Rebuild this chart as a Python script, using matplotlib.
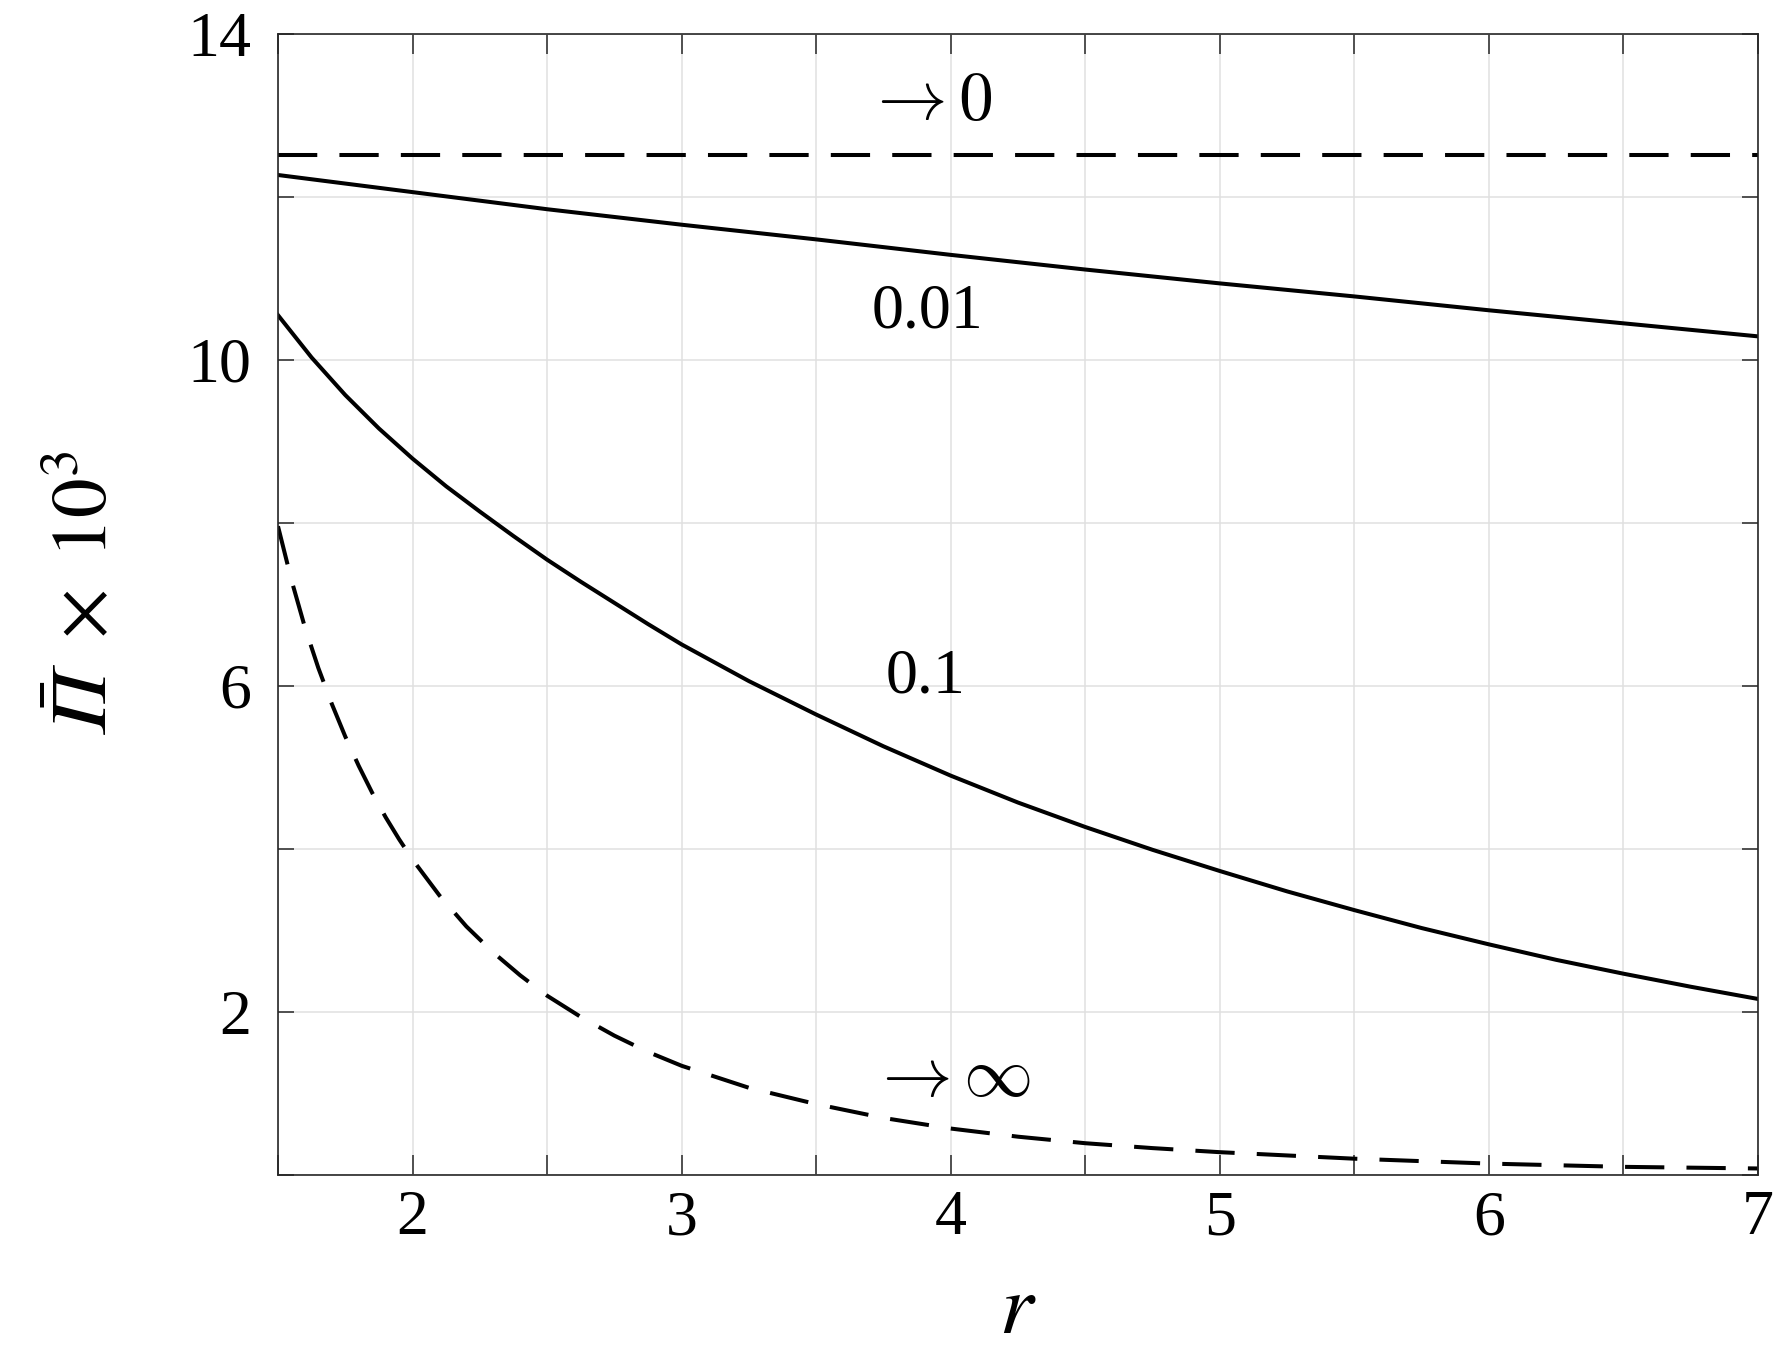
import matplotlib
matplotlib.use("Agg")
import matplotlib.pyplot as plt

# ---- data ----
r_zero = [1.5, 7.0]
pi_zero = [12.52, 12.52]

r_001 = [1.5, 2.0, 2.5, 3.0, 3.5, 4.0, 4.5, 5.0, 5.5, 6.0, 6.5, 7.0]
pi_001 = [12.27, 12.06, 11.85, 11.66, 11.48, 11.29, 11.11, 10.94, 10.78, 10.61, 10.45, 10.29]

r_01 = [1.5, 1.625, 1.75, 1.875, 2.0, 2.125, 2.25, 2.375, 2.5, 2.625, 2.75, 2.875,
        3.0, 3.25, 3.5, 3.75, 4.0, 4.25, 4.5, 4.75, 5.0, 5.25, 5.5, 5.75,
        6.0, 6.25, 6.5, 6.75, 7.0]
pi_01 = [10.55, 10.03, 9.57, 9.16, 8.79, 8.45, 8.14, 7.84, 7.55, 7.28, 7.02, 6.76,
         6.51, 6.06, 5.65, 5.26, 4.90, 4.57, 4.27, 3.99, 3.73, 3.48, 3.25, 3.03,
         2.83, 2.64, 2.47, 2.31, 2.16]

r_inf = [1.5, 1.55, 1.6, 1.65, 1.7, 1.75, 1.8, 1.85, 1.9, 1.95, 2.0, 2.1, 2.2, 2.3,
         2.4, 2.5, 2.625, 2.75, 2.875, 3.0, 3.25, 3.5, 3.75, 4.0, 4.25, 4.5, 4.75,
         5.0, 5.5, 6.0, 6.5, 7.0]
pi_inf = [7.96, 7.30, 6.72, 6.22, 5.78, 5.38, 5.02, 4.69, 4.39, 4.12, 3.87, 3.43, 3.05, 2.73,
          2.45, 2.20, 1.94, 1.71, 1.51, 1.34, 1.07, 0.87, 0.70, 0.57, 0.47, 0.39, 0.33,
          0.28, 0.20, 0.14, 0.10, 0.08]

x_ticks = [1.5, 2.0, 2.5, 3.0, 3.5, 4.0, 4.5, 5.0, 5.5, 6.0, 6.5, 7.0]
x_ticklabels = ["", "2", "", "3", "", "4", "", "5", "", "6", "", "7"]
y_ticks = [0, 2, 4, 6, 8, 10, 12, 14]
y_ticklabels = ["", "2", "", "6", "", "10", "", "14"]

curve_labels = [r"$\rightarrow 0$", "0.01", "0.1", r"$\rightarrow \infty$"]
curve_label_r = [3.92, 3.915, 3.905, 4.00]
curve_label_pi = [13.16, 10.58, 6.11, 1.17]

# ---- style ----
plt.rcParams["font.family"] = ["Liberation Serif", "DejaVu Serif"]
plt.rcParams["mathtext.fontset"] = "stix"

W, H = 1776, 1353
fig = plt.figure(figsize=(W / 100, H / 100), dpi=100)
ax = fig.add_axes([278 / W, 1 - 1175 / H, 1480 / W, 1141 / H])

lw = 2.9
dash = (9.75, 5.5)
ax.plot(r_zero, pi_zero, color="black", lw=lw, dashes=dash)
ax.plot(r_001, pi_001, color="black", lw=lw, solid_joinstyle="round")
ax.plot(r_01, pi_01, color="black", lw=lw, solid_joinstyle="round")
ax.plot(r_inf, pi_inf, color="black", lw=lw, dashes=dash)

ax.set_xlim(1.5, 7.0)
ax.set_ylim(0, 14)
ax.set_xticks(x_ticks)
ax.set_xticklabels(x_ticklabels)
ax.set_yticks(y_ticks)
ax.set_yticklabels(y_ticklabels)

spine_col = "#262626"
for s in ax.spines.values():
    s.set_color(spine_col)
    s.set_linewidth(1.2)

ax.tick_params(axis="x", which="both", direction="in", length=14.4, width=1.1,
               top=True, bottom=True, colors=spine_col, labelcolor="black",
               labelsize=46, pad=11)
ax.tick_params(axis="y", which="both", direction="in", length=11.5, width=1.1,
               left=True, right=True, colors=spine_col, labelcolor="black",
               labelsize=46, pad=19)

ax.set_axisbelow(True)
ax.grid(True, color="#e0e0e0", lw=1.1)

for txt, xr, yp in zip(curve_labels, curve_label_r, curve_label_pi):
    if txt.startswith("$"):
        ax.text(xr, yp, txt, fontsize=50, ha="center", va="center", color="black",
                math_fontfamily="cm")
    else:
        ax.text(xr, yp, txt, fontsize=46, ha="center", va="center", color="black")

ax.set_xlabel(r"$r$", fontsize=62, va="center")
ax.xaxis.set_label_coords(0.5, (1175 - 1312) / 1141)
ax.set_ylabel("$\\bar{\U0001D6F1}\\ \\times\\ 10^3$", fontsize=57, va="center", ha="center")
ax.yaxis.set_label_coords((88 - 278) / 1480, (1175 - 595) / 1141)

fig.savefig("out.png", dpi=100, facecolor="white")
